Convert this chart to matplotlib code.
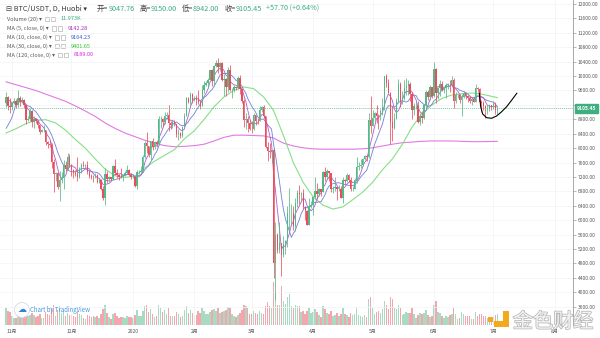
import numpy as np
import pandas as pd
import matplotlib
matplotlib.use("Agg")
import matplotlib.pyplot as plt
import matplotlib.dates as mdates
import matplotlib.transforms as mtransforms
import matplotlib.patheffects as pe
from matplotlib.patches import Rectangle, Ellipse

plt.rcParams['font.family'] = ['Noto Sans CJK SC', 'DejaVu Sans']

# Daily BTC/USDT candles, 2019-10-29 .. 2020-07-03 (open = previous close)
first_day = "2019-10-29"
warmup_close = [8230, 8200, 8020, 7470, 7420, 8660, 9250, 9550, 9250]

close_oct = [9430, 9180, 9150]
close_nov = [9250, 9300, 9200, 9400, 9300, 9340, 9200, 8770, 8810, 9040,
             8720, 8800, 8760, 8630, 8460, 8490, 8500, 8170, 8120, 8080,
             7620, 7280, 7320, 6910, 7130, 7160, 7520, 7430, 7750, 7540]
close_dec = [7400, 7300, 7290, 7190, 7390, 7530, 7500, 7520, 7340, 7220,
             7200, 7190, 7250, 7070, 7110, 6880, 6610, 7280, 7150, 7190,
             7140, 7510, 7320, 7250, 7200, 7190, 7250, 7310, 7390, 7250, 7190]
close_jan = [7200, 6960, 7340, 7350, 7360, 7760, 8150, 8050, 7820, 8190,
             8020, 8180, 8110, 8810, 8820, 8720, 8900, 8910, 8700, 8630,
             8720, 8660, 8390, 8430, 8330, 8600, 8900, 9390, 9290, 9500, 9350]
close_feb = [9380, 9330, 9290, 9180, 9620, 9750, 9810, 9900, 10160, 9850,
             10270, 10350, 10240, 10360, 9900, 9920, 9700, 10180, 9600, 9610,
             9690, 9660, 9960, 9650, 9310, 8780, 8810, 8710, 8530]
close_mar = [8520, 8910, 8760, 8750, 9070, 9150, 8890, 8030, 7930, 7880,
             7940, 4800, 5580, 5170, 5360, 5030, 5330, 5420, 6190, 6190,
             6190, 5830, 6470, 6760, 6720, 6760, 6370, 6250, 5880, 6400, 6420]
close_apr = [6640, 6800, 6740, 6860, 6780, 7340, 7200, 7370, 7300, 6860,
             6890, 6920, 6860, 6880, 6620, 7120, 7100, 7260, 7130, 6860,
             6880, 7130, 7490, 7510, 7540, 7700, 7790, 7760, 8780, 8620]
close_may = [8830, 8970, 8890, 8880, 9030, 9150, 9990, 9810, 9540, 8720,
             8560, 8810, 9310, 9790, 9310, 9380, 9670, 9730, 9780, 9510,
             9060, 9170, 9180, 8720, 8900, 8840, 9200, 9570, 9430, 9700, 9450]
close_jun = [10200, 9520, 9670, 9790, 9620, 9670, 9750, 9780, 9770, 9880,
             9320, 9470, 9470, 9340, 9430, 9520, 9460, 9380, 9300, 9360,
             9290, 9680, 9630, 9290, 9250, 9160, 9110, 9120.90, 9190, 9138.19]
close_jul = [9230, 9047.76, 9105.45]

high_oct = [9550, 9440, 9380]
high_nov = [9270, 9380, 9370, 9600, 9460, 9430, 9370, 9210, 8880, 9120,
            9070, 8880, 8820, 8790, 8650, 8530, 8640, 8500, 8210, 8220,
            8140, 7700, 7350, 7340, 7380, 7330, 7660, 7630, 7870, 7830]
high_dec = [7550, 7420, 7400, 7750, 7480, 7580, 7630, 7560, 7650, 7400,
            7270, 7260, 7310, 7270, 7180, 7140, 6940, 7440, 7370, 7220,
            7200, 7520, 7690, 7430, 7280, 7440, 7270, 7360, 7520, 7410, 7320]
high_jan = [7250, 7220, 7400, 7400, 7500, 7800, 8210, 8460, 8060, 8200,
            8280, 8200, 8200, 8880, 8900, 8850, 9000, 8990, 9190, 8740,
            8770, 8790, 8680, 8520, 8440, 8610, 8980, 9410, 9430, 9560, 9530]
high_feb = [9440, 9470, 9610, 9350, 9750, 9870, 9870, 9950, 10160, 10190,
            10320, 10440, 10500, 10390, 10380, 10050, 9960, 10250, 10300, 9680,
            9760, 9700, 9990, 10020, 9650, 9370, 8970, 8900, 8790]
high_mar = [8750, 8970, 8920, 8840, 9170, 9170, 9190, 8900, 8180, 8150,
            7980, 7970, 5950, 5650, 5940, 5360, 5560, 5440, 6400, 6900,
            6460, 6400, 6620, 6840, 6980, 6790, 6880, 6380, 6280, 6610, 6520]
high_apr = [6680, 7200, 7040, 6900, 6880, 7360, 7470, 7420, 7380, 7300,
            6950, 7190, 6920, 6980, 6940, 7200, 7150, 7300, 7270, 7200,
            6950, 7170, 7760, 7620, 7700, 7720, 7800, 7800, 8980, 9460]
high_may = [9060, 9010, 9190, 8950, 9100, 9390, 10000, 10070, 9920, 9570,
            9170, 8980, 9400, 9930, 9840, 9580, 9880, 9950, 9900, 9840,
            9560, 9260, 9310, 9300, 8980, 9020, 9220, 9620, 9610, 9740, 9700]
high_jun = [10380, 10230, 9690, 9880, 9850, 9730, 9800, 9800, 9880, 9990,
            9950, 9560, 9500, 9490, 9490, 9590, 9540, 9480, 9440, 9390,
            9420, 9780, 9690, 9660, 9330, 9310, 9190, 9190, 9230, 9200]
high_jul = [9300, 9270, 9150]

low_oct = [9140, 9050, 8980]
low_nov = [9060, 9220, 9120, 9150, 9180, 9250, 9120, 8680, 8750, 8760,
           8600, 8560, 8700, 8570, 8380, 8440, 8440, 8080, 8000, 8030,
           7450, 6790, 7100, 6860, 6520, 7020, 6860, 7380, 7400, 7480]
low_dec = [7230, 7160, 7240, 7080, 7170, 7310, 7480, 7420, 7270, 7170,
           7150, 7070, 7180, 7030, 7020, 6850, 6560, 6430, 7040, 7100,
           7120, 7130, 7260, 7160, 7130, 7160, 7080, 7240, 7290, 7220, 7150]
low_jan = [7170, 6920, 6870, 7270, 7310, 7340, 7720, 7870, 7760, 7680,
           7960, 7970, 8040, 8100, 8570, 8610, 8680, 8810, 8470, 8520,
           8560, 8610, 8300, 8230, 8280, 8300, 8580, 8880, 9260, 9210, 9250]
low_feb = [9310, 9200, 9220, 9100, 9170, 9540, 9730, 9680, 9890, 9730,
           9720, 10250, 10080, 10130, 9850, 9460, 9450, 9570, 9590, 9400,
           9570, 9600, 9650, 9500, 9250, 8600, 8530, 8440, 8510]
low_mar = [8420, 8500, 8650, 8670, 8750, 9010, 8850, 8000, 7630, 7730,
           7590, 4410, 3800, 5090, 5100, 4440, 4970, 5070, 5270, 5670,
           5860, 5740, 5690, 6380, 6460, 6540, 6300, 6020, 5870, 5860, 6330]
low_apr = [6150, 6600, 6600, 6680, 6660, 6770, 7080, 7150, 7100, 6780,
           6760, 6810, 6560, 6800, 6620, 6470, 7000, 7070, 7060, 6800,
           6800, 6860, 7020, 7400, 7450, 7500, 7670, 7650, 7740, 8410]
low_may = [8620, 8760, 8710, 8530, 8770, 8930, 9050, 9700, 9520, 8120,
           8200, 8530, 8800, 9260, 9130, 9220, 9330, 9470, 9480, 9300,
           8820, 8930, 9090, 8700, 8640, 8700, 8810, 9110, 9330, 9350, 9380]
low_jun = [9420, 9260, 9370, 9450, 9580, 9530, 9380, 9640, 9570, 9700,
           9120, 9240, 9400, 9250, 8900, 9380, 9370, 9280, 9240, 9200,
           9280, 9280, 9570, 9200, 9000, 9050, 8830, 8940, 9020, 9070]
low_jul = [9090, 8940, 8942]

# volume in thousands
vol_oct = [18, 15, 14]
vol_nov = [10, 8, 8, 12, 11, 9, 10, 16, 10, 11, 13, 11, 9, 10, 12, 8, 8, 14, 12, 11,
           18, 22, 10, 16, 20, 13, 16, 10, 13, 11]
vol_dec = [11, 10, 9, 15, 12, 11, 8, 7, 11, 10, 9, 10, 9, 10, 8, 12, 17, 22, 13, 9,
           7, 12, 13, 10, 8, 9, 9, 8, 10, 9, 9]
vol_jan = [8, 11, 16, 10, 10, 15, 20, 22, 14, 17, 12, 9, 10, 22, 18, 14, 16, 12, 18, 10,
           10, 10, 14, 12, 9, 10, 16, 20, 13, 16, 13]
vol_feb = [11, 11, 15, 13, 18, 15, 12, 12, 14, 16, 17, 15, 18, 13, 14, 15, 16, 19, 18, 12,
           10, 9, 11, 13, 16, 22, 20, 18, 12]
vol_mar = [12, 15, 13, 12, 15, 13, 12, 20, 25, 20, 18, 46, 36, 22, 22, 42, 26, 23, 30, 33,
           20, 18, 22, 21, 20, 14, 15, 12, 15, 18, 13]
vol_apr = [14, 17, 14, 11, 9, 21, 17, 13, 12, 15, 10, 11, 13, 10, 12, 18, 12, 11, 9, 13,
           11, 12, 18, 11, 10, 9, 11, 9, 28, 30]
vol_may = [18, 12, 14, 15, 13, 17, 26, 22, 17, 30, 28, 18, 17, 22, 18, 11, 12, 14, 13, 13,
           18, 12, 8, 11, 13, 12, 13, 16, 11, 9, 10]
vol_jun = [22, 26, 14, 13, 10, 8, 10, 9, 11, 12, 18, 12, 7, 8, 14, 12, 10, 10, 10, 7,
           7, 14, 10, 12, 12, 10, 10, 8, 9, 9]
vol_jul = [10, 11, 11.973]

# MA(30) and MA(120) read every 5 days from the first candle
ma_days = list(range(0, 246, 5)) + [248]
ma30 = [8420, 8540, 8680, 8770, 8790, 8700, 8500, 8240, 8000, 7700,
        7420, 7230, 7190, 7220, 7450, 7640, 7800, 7960, 8260, 8480,
        8800, 9150, 9420, 9600, 9700, 9650, 9420, 9050, 8350, 7600,
        7050, 6650, 6420, 6310, 6370, 6570, 6780, 7050, 7400, 7700,
        8100, 8590, 8950, 9200, 9380, 9475, 9510, 9530, 9500, 9440, 9401.65]
ma120 = [9840, 9760, 9680, 9600, 9500, 9400, 9300, 9170, 9030, 8880,
         8700, 8550, 8420, 8320, 8220, 8140, 8070, 8040, 8050, 8070,
         8110, 8200, 8300, 8360, 8360, 8350, 8340, 8280, 8140, 8060,
         8010, 7980, 7970, 7970, 7970, 7970, 7980, 8010, 8060, 8110,
         8150, 8170, 8190, 8200, 8200, 8200, 8190, 8180, 8180, 8185, 8189.00]

# hand-drawn arc near the last candles (day offset, price)
arc_days = [238.9, 239.6, 240.6, 242.6, 245.1, 247.6, 250.2, 252.7, 255.3, 257.8]
arc_price = [9522, 9150, 8948, 8845, 8829, 8892, 9012, 9150, 9336, 9522]

month_labels = ["11月", "12月", "2020", "2月", "3月", "4月", "5月", "6月", "7月", "8月"]

UP = "#53b987"
DOWN = "#eb4d5c"
W, H = 600, 338


def fx(px):
    return px / W


def fy(py):
    return 1 - py / H


def text_row(fig, x_px, y_px, pieces, size):
    # lay text pieces side by side, each in its own colour
    renderer = fig.canvas.get_renderer()
    x = fx(x_px)
    for s, color in pieces:
        t = fig.text(x, fy(y_px), s, fontsize=size, color=color, va="center", ha="left")
        x += t.get_window_extent(renderer).width / W
    return x * W


def icon_boxes(fig, x_px, y_px):
    # the small settings / close squares after each legend name
    for dx in (0, 6):
        fig.add_artist(Rectangle((fx(x_px + dx), fy(y_px + 2.2)), 4.4 / W, 4.4 / H,
                                 transform=fig.transFigure, fc="white", ec="#b5b5b5", lw=0.5))
    return x_px + 14


def main():
    closes = np.array(close_oct + close_nov + close_dec + close_jan + close_feb
                      + close_mar + close_apr + close_may + close_jun + close_jul, dtype=float)
    highs = np.array(high_oct + high_nov + high_dec + high_jan + high_feb
                     + high_mar + high_apr + high_may + high_jun + high_jul, dtype=float)
    lows = np.array(low_oct + low_nov + low_dec + low_jan + low_feb
                    + low_mar + low_apr + low_may + low_jun + low_jul, dtype=float)
    vols = np.array(vol_oct + vol_nov + vol_dec + vol_jan + vol_feb
                    + vol_mar + vol_apr + vol_may + vol_jun + vol_jul, dtype=float)
    opens = np.concatenate([[warmup_close[-1]], closes[:-1]])

    dates = pd.date_range(first_day, periods=len(closes), freq="D")
    x = mdates.date2num(dates)
    x0 = x[0]

    full = pd.Series(warmup_close + list(closes))
    ma5 = full.rolling(5).mean().values[len(warmup_close):]
    ma10 = full.rolling(10).mean().values[len(warmup_close):]

    fig = plt.figure(figsize=(6, 3.38), dpi=100)
    ax = fig.add_axes([0, fy(325), 573 / W, 325 / H])
    axv = ax.twinx()
    ax.set_zorder(axv.get_zorder() + 1)
    ax.patch.set_visible(False)

    up = closes >= opens
    colors = np.where(up, UP, DOWN)

    # volume underneath
    axv.bar(x, vols, width=0.75, color=colors, alpha=0.5, linewidth=0)
    axv.set_ylim(0, 350)
    axv.axis("off")

    # grid
    yticks = np.arange(3600, 12001, 400)
    month_starts = pd.date_range("2019-11-01", "2020-08-01", freq="MS")
    for yt in yticks:
        ax.axhline(yt, color="#f1f3f6", lw=0.5, zorder=0)
    for m in mdates.date2num(month_starts):
        ax.axvline(m, color="#f1f3f6", lw=0.5, zorder=0)

    # moving averages
    ma_x = x0 + np.array(ma_days)
    ax.plot(ma_x, ma120, color="#e27ae2", lw=0.8, zorder=2)
    ax.plot(ma_x, ma30, color="#86e086", lw=0.8, zorder=2)
    ax.plot(x, ma10, color="#6f7fd8", lw=0.6, zorder=2)
    ax.plot(x, ma5, color="#b05ccc", lw=0.6, zorder=2)

    # candles
    ax.vlines(x, lows, highs, colors=colors, lw=0.55, zorder=3)
    body = np.maximum(np.abs(closes - opens), 10)
    ax.bar(x, body, bottom=np.minimum(opens, closes), width=0.7,
           color=colors, linewidth=0, zorder=4)

    # last price line + label
    last = closes[-1]
    ax.axhline(last, color=UP, lw=0.6, ls=(0, (1, 1.3)), zorder=5)
    trans = mtransforms.blended_transform_factory(ax.transAxes, ax.transData)
    ax.text(1.006, last, f"{last:.2f}", transform=trans, ha="left", va="center",
            fontsize=3.6, color="white", fontweight="bold", zorder=10, clip_on=False,
            bbox=dict(boxstyle="square,pad=0.35", fc="#3fae80", ec="#3fae80"))

    # drawn arc
    ax.plot(x0 + np.array(arc_days), arc_price, color="black", lw=0.8, zorder=6,
            clip_on=False)

    ax.set_xlim(x0 - 3.08, x0 + 286.2)
    ax.set_ylim(3093, 12111)

    ax.yaxis.tick_right()
    ax.set_yticks(yticks)
    # the 9200 label sits under the last-price tag
    ax.set_yticklabels(["" if abs(v - last) < 200 else f"{v:.2f}" for v in yticks])
    ax.tick_params(axis="y", length=2, width=0.5, color="#9a9a9a", labelsize=3.5,
                   labelcolor="#555555", pad=1.5)
    ax.set_xticks(mdates.date2num(month_starts))
    ax.set_xticklabels(month_labels)
    ax.tick_params(axis="x", length=0, labelsize=3.6, labelcolor="#555555", pad=3)
    for side in ["top", "left", "bottom"]:
        ax.spines[side].set_visible(False)
    ax.spines["right"].set_color("#9a9a9a")
    ax.spines["right"].set_linewidth(0.6)

    # header
    dark = "#3a3a3a"
    grey = "#5a5a5a"
    green = "#3aa981"
    text_row(fig, 6, 9, [("⊟ BTC/USDT, D, Huobi ▾", dark)], 5.2)
    end = text_row(fig, 97, 9, [("开=", dark), ("9047.76", green)], 5.2)
    end = text_row(fig, end + 5, 9, [("高=", dark), ("9150.00", green)], 5.2)
    end = text_row(fig, end + 5, 9, [("低=", dark), ("8942.00", green)], 5.2)
    end = text_row(fig, end + 5, 9, [("收=", dark), ("9105.45", green)], 5.2)
    text_row(fig, end + 4, 9, [("+57.70 (+0.64%)", green)], 5.2)

    # indicator legend
    legend_rows = [
        (19.0, "Volume (20) ▾", "11.973K", green),
        (28.3, "MA (5, close, 0) ▾", "9142.28", "#a52cc4"),
        (37.3, "MA (10, close, 0) ▾", "9164.23", "#3a55d8"),
        (46.2, "MA (30, close, 0) ▾", "9401.65", "#30c430"),
        (55.0, "MA (120, close, 0) ▾", "8189.00", "#e020e0"),
    ]
    for y_px, name, value, color in legend_rows:
        end = text_row(fig, 7, y_px, [(name, grey)], 4.0)
        end = icon_boxes(fig, end + 3, y_px)
        text_row(fig, end + 2, y_px, [(value, color)], 4.0)

    # TradingView badge
    fig.add_artist(Ellipse((fx(22), fy(310)), 15 / W, 15 / H, transform=fig.transFigure,
                           fc="white", ec="#d5dbe5", lw=0.6))
    fig.text(fx(22), fy(310), "☁", fontsize=6.5, color="#2f86d8", ha="center", va="center",
             family="DejaVu Sans")
    fig.text(fx(30), fy(310), "Chart by TradingView", fontsize=4.4, color="#4a9be0",
             ha="left", va="center")

    # 金色财经 watermark
    for (x1, y1, x2, y2) in [(503, 311, 509, 327), (494, 321, 509, 327), (488, 317, 493, 322)]:
        fig.add_artist(Rectangle((fx(x1), fy(y2)), (x2 - x1) / W, (y2 - y1) / H,
                                 transform=fig.transFigure, fc="#f2a91e", ec="none"))
    fig.text(fx(553), fy(322), "金色财经", fontsize=14.5, color="#f3f3f3", ha="center",
             va="center", family="Noto Sans CJK SC",
             path_effects=[pe.withStroke(linewidth=1.1, foreground="#b8b8b8")])

    fig.savefig("out.png", dpi=100)


main()
